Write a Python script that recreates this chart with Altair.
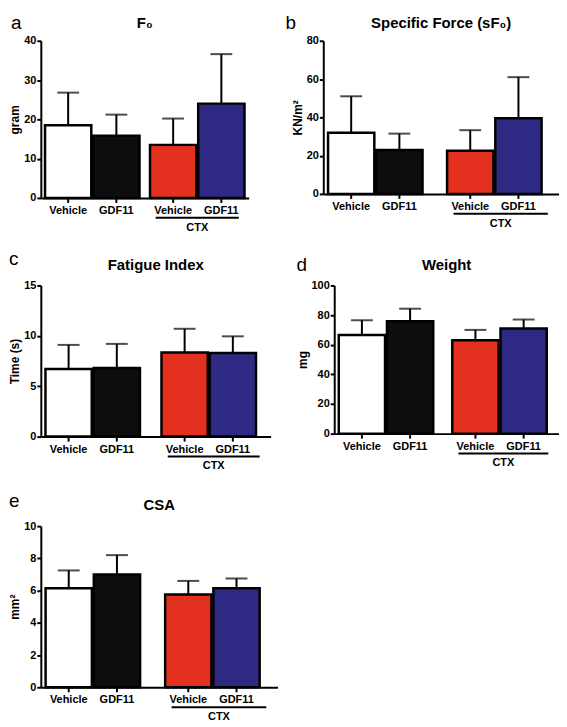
import altair as alt
import pandas as pd

groups = ["Ctrl", "Ctrl", "CTX", "CTX"]
treats = ["Vehicle", "GDF11", "Vehicle", "GDF11"]
keys = ["Vehicle", "GDF11", "CTX Vehicle", "CTX GDF11"]
colors = ["#ffffff", "#0d0d0d", "#e3301f", "#2e2a84"]

f0_mean = [18.5, 15.8, 13.5, 24.0]
f0_upper = [26.8, 21.2, 20.2, 36.6]
sf0_mean = [32.0, 23.0, 22.5, 39.5]
sf0_upper = [51.0, 31.5, 33.3, 61.0]
fat_mean = [6.7, 6.8, 8.35, 8.3]
fat_upper = [9.1, 9.2, 10.7, 9.95]
wt_mean = [66.5, 75.8, 63.0, 71.0]
wt_upper = [76.5, 84.3, 70.0, 77.0]
csa_mean = [6.15, 7.0, 5.75, 6.15]
csa_upper = [7.25, 8.2, 6.6, 6.75]

FONT = "Liberation Sans"


def panel(letter, title, ytitle, means, uppers, ymax, ticks, w, h, lx, ly, ty):
    df = pd.DataFrame({"group": groups, "treat": treats, "key": keys,
                       "value": means, "upper": uppers})
    gdf = pd.DataFrame({"group": ["CTX"], "label": ["CTX"]})
    xs = alt.X("group:N", sort=["Ctrl", "CTX"],
               scale=alt.Scale(paddingInner=0.1, paddingOuter=0.04),
               axis=alt.Axis(title=None, labels=False, ticks=False, domain=True,
                             domainColor="black", domainWidth=2))
    xo = alt.XOffset("treat:N", sort=["Vehicle", "GDF11"],
                     scale=alt.Scale(paddingInner=0.04))
    yscale = alt.Scale(domain=[0, ymax], nice=False)
    yaxis = alt.Axis(title=ytitle, values=ticks, grid=False, labelOverlap=False,
                     domainColor="black", domainWidth=2,
                     tickColor="black", tickWidth=2, tickSize=4,
                     labelFont=FONT, labelFontWeight="bold", labelFontSize=11,
                     labelColor="black", labelPadding=1,
                     titleFont=FONT, titleFontWeight="bold", titleFontSize=12,
                     titleColor="black", titlePadding=2)
    base = alt.Chart(df)
    bars = base.mark_bar(stroke="black", strokeWidth=2.5).encode(
        x=xs, xOffset=xo, y=alt.Y("value:Q", scale=yscale, axis=yaxis),
        color=alt.Color("key:N", scale=alt.Scale(domain=keys, range=colors), legend=None))
    err = base.mark_rule(color="black", strokeWidth=2).encode(
        x=xs, xOffset=xo, y=alt.Y("value:Q", scale=yscale, axis=yaxis), y2="upper:Q")
    cap = base.mark_tick(color="black", orient="horizontal", size=22, thickness=2).encode(
        x=xs, xOffset=xo, y=alt.Y("upper:Q", scale=yscale, axis=yaxis))
    xt = base.mark_rule(color="black", strokeWidth=2).encode(
        x=xs, xOffset=xo, y=alt.value(h), y2=alt.value(h + 5))
    lab = base.mark_text(font=FONT, fontWeight="bold", fontSize=11, color="black",
                         baseline="middle").encode(
        x=xs, xOffset=xo, y=alt.value(h + 13), text="treat:N")
    line = alt.Chart(gdf).mark_bar(color="black", width=alt.RelativeBandSize(0.88)).encode(
        x=xs, y=alt.value(h + 19), y2=alt.value(h + 21))
    ctx = alt.Chart(gdf).mark_text(font=FONT, fontWeight="bold", fontSize=11, color="black",
                                   baseline="middle").encode(
        x=xs, y=alt.value(h + 30), text="label:N")
    let = alt.Chart(gdf).mark_text(font=FONT, fontSize=19, color="black",
                                   baseline="middle", align="left").encode(
        x=alt.value(lx), y=alt.value(ly), text=alt.value(letter))
    ttl = alt.Chart(gdf).mark_text(font=FONT, fontSize=15, fontWeight="bold", color="black",
                                   baseline="middle", align="center").encode(
        x=alt.value(w / 2), y=alt.value(ty), text=alt.value(title))
    return alt.layer(bars, err, cap, xt, lab, line, ctx, let, ttl).properties(
        width=w, height=h)


a = panel("a", "F₀", "gram", f0_mean, f0_upper, 40, [0, 10, 20, 30, 40], 209, 158,
          -30, -18, -18)
b = panel("b", "Specific Force (sF₀)", "KN/m²", sf0_mean, sf0_upper, 80, [0, 20, 40, 60, 80],
          237, 154, -38, -18, -18)
c = panel("c", "Fatigue Index", "Time (s)", fat_mean, fat_upper, 15, [0, 5, 10, 15],
          231, 152, -32, -27, -21)
d = panel("d", "Weight", "mg", wt_mean, wt_upper, 100, [0, 20, 40, 60, 80, 100],
          226, 149, -38, -21, -21)
e = panel("e", "CSA", "mm²", csa_mean, csa_upper, 10, [0, 2, 4, 6, 8, 10],
          238, 162, -32, -25, -21)

chart = alt.vconcat(
    alt.vconcat(
        alt.hconcat(a, b, spacing=37),
        alt.hconcat(c, d, spacing=25),
        spacing=17,
    ),
    e,
    spacing=21,
).configure_view(stroke=None).properties(padding={"left": 0, "top": 4, "right": 0, "bottom": 0})

chart.save("out.html", embed_options={"renderer": "svg", "actions": False})
